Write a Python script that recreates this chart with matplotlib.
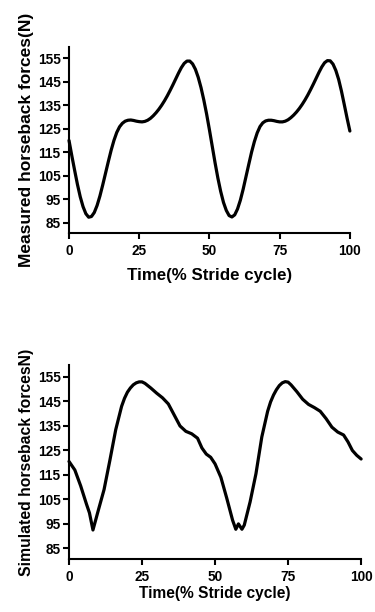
import matplotlib
matplotlib.use("Agg")
import matplotlib.pyplot as plt

plt.rcParams['font.family'] = ['Liberation Sans', 'DejaVu Sans']
plt.rcParams['font.weight'] = 'bold'

# Measured horseback forces (top panel), % stride cycle 0..100 step 1
time_measured = list(range(0, 101))
force_measured = [
    120, 113.5, 107.3, 101.3, 96, 91.8, 88.8, 87.3, 87.6, 89.3,
    92.3, 96.3, 101, 106, 111, 115.8, 120, 123.4, 125.8, 127.3,
    128.2, 128.6, 128.7, 128.5, 128.2, 128, 127.9, 128.1, 128.6, 129.4,
    130.5, 131.8, 133.3, 135, 136.9, 139, 141.3, 143.7, 146.2, 148.7,
    151, 152.8, 153.8, 153.8, 152.6, 150.3, 146.9, 142.5, 137.2, 131.2,
    124.5, 117.5, 110.5, 104, 98.3, 93.6, 90.2, 88, 87.4, 88.3,
    90.8, 94.5, 99.2, 104.5, 109.8, 115, 119.5, 123.2, 125.9, 127.5,
    128.3, 128.6, 128.6, 128.4, 128.1, 127.9, 127.9, 128.2, 128.8, 129.7,
    130.8, 132.1, 133.6, 135.3, 137.2, 139.3, 141.6, 144, 146.5, 149,
    151.3, 153.1, 154, 153.9, 152.5, 149.8, 146, 141, 135.3, 129.5,
    124]

# Simulated horseback forces (bottom panel)
time_simulated = [0, 2, 4, 6, 7, 8.2, 10, 12, 14, 16, 18, 19, 20, 21, 22, 23, 24, 25, 26,
                  28, 30, 32, 34, 36, 38, 40, 42, 44, 45.5, 47, 48.5, 50, 52, 54, 56,
                  57.1, 58, 59.2, 60, 62, 64, 66, 68, 69, 70, 71, 72, 73, 74, 75, 76,
                  78, 80, 82, 84, 86, 88, 90, 92, 94, 95.5, 97, 98.5, 100]
force_simulated = [120.5, 117, 110.5, 103, 99.5, 92.5, 100.4, 109, 121, 133.5, 143, 146.3,
                   148.8, 150.5, 151.8, 152.6, 153, 153, 152.4,
                   150.5, 148.4, 146.5, 144, 139.5, 135, 132.8, 131.8, 130, 126, 123.5,
                   122.2, 119.5, 114, 105.5, 96.5,
                   92.8, 95, 92.8, 94.5, 104, 115.5, 130.5, 141, 144.8, 147.6, 149.8,
                   151.5, 152.6, 153.1, 152.9, 151.8,
                   149, 145.9, 143.8, 142.5, 141, 138, 134.5, 132.5, 131.3, 128.5, 125,
                   123, 121.5]

y_ticks = [85, 95, 105, 115, 125, 135, 145, 155]
x_ticks = [0, 25, 50, 75, 100]

fig = plt.figure(figsize=(3.75, 6.12), dpi=100)

ax1 = fig.add_axes([0.184, 0.619, 0.749, 0.305])
ax2 = fig.add_axes([0.184, 0.086, 0.779, 0.318])

panels = [
    (ax1, time_measured, force_measured, 'Measured horseback forces(N)', 12.5, 12.2, 7),
    (ax2, time_simulated, force_simulated, 'Simulated horseback forcesN)', 11.3, 11.2, 1),
]

for ax, x, y, ylabel, ylsize, xlsize, xlpad in panels:
    ax.plot(x, y, color='black', lw=2.3, solid_joinstyle='round', solid_capstyle='round',
            clip_on=False)
    ax.set_xlim(0, 100)
    ax.set_ylim(80.5, 160)
    ax.set_xticks(x_ticks)
    ax.set_yticks(y_ticks)
    for s in ['top', 'right']:
        ax.spines[s].set_visible(False)
    for s in ['left', 'bottom']:
        ax.spines[s].set_linewidth(1.5)
    ax.tick_params(axis='both', direction='out', length=4, width=1.5, labelsize=9.8, pad=2)
    ax.tick_params(axis='x', pad=4)
    for lab in ax.get_xticklabels() + ax.get_yticklabels():
        lab.set_fontweight('bold')
    ax.set_ylabel(ylabel, fontsize=ylsize, fontweight='bold', labelpad=3)
    ax.set_xlabel('Time(% Stride cycle)', fontsize=xlsize, fontweight='bold', labelpad=xlpad)

fig.savefig('out.png', dpi=100)
